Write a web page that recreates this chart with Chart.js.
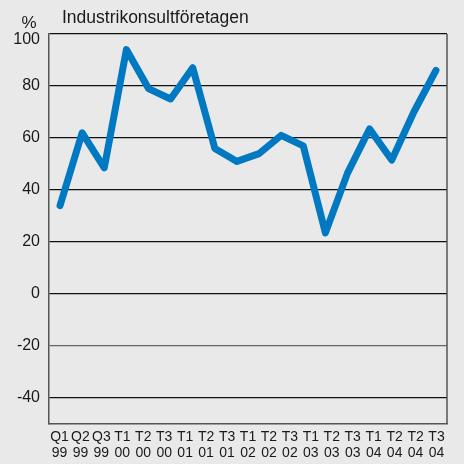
<!DOCTYPE html>
<html>
<head>
<meta charset="utf-8">
<script src="https://cdn.jsdelivr.net/npm/chart.js@4/dist/chart.umd.min.js"></script>
<style>
  html, body { margin: 0; padding: 0; background: #e9e9e9; }
  #wrap { width: 464px; height: 464px; position: relative; }
</style>
</head>
<body>
<div id="wrap"><canvas id="myChart" width="464" height="464"></canvas></div>
<script>
// tick labels as printed under the axis (19 of them, "T2 04" appears twice)
var tickLabels = [
  ["Q1","99"],["Q2","99"],["Q3","99"],
  ["T1","00"],["T2","00"],["T3","00"],
  ["T1","01"],["T2","01"],["T3","01"],
  ["T1","02"],["T2","02"],["T3","02"],
  ["T1","03"],["T2","03"],["T3","03"],
  ["T1","04"],["T2","04"],["T2","04"],["T3","04"]
];
// periods that carry a value (18 points on the line)
var periods = ["Q1 99","Q2 99","Q3 99","T1 00","T2 00","T3 00","T1 01","T2 01","T3 01",
               "T1 02","T2 02","T3 02","T1 03","T2 03","T3 03","T1 04","T2 04","T3 04"];
var values = [34, 62, 48.5, 94, 79, 75, 87, 56, 51, 54, 61, 57, 23.5, 46.5, 63.5, 51.5, 70, 86];
var yTicks = [-40, -20, 0, 20, 40, 60, 80, 100];
var title = "Industrikonsultföretagen";
var unit = "%";

var frame = {
  id: "frame",
  afterDatasetsDraw: function(chart) {
    var a = chart.chartArea, ctx = chart.ctx;
    ctx.save();
    ctx.strokeStyle = "#555";
    ctx.lineWidth = 1.5;
    ctx.beginPath();
    ctx.moveTo(a.right, a.top); ctx.lineTo(a.right, a.bottom);
    ctx.stroke();
    ctx.fillStyle = "#1a1a1a";
    ctx.font = "17.5px 'Liberation Sans', Arial, sans-serif";
    ctx.textBaseline = "alphabetic";
    ctx.textAlign = "left";
    ctx.fillText(title, 62, 23);
    ctx.textAlign = "center";
    ctx.font = "17px 'Liberation Sans', Arial, sans-serif";
    ctx.fillText(unit, 29, 28);
    ctx.restore();
  }
};

var chart = new Chart("myChart", {
  type: "line",
  data: {
    datasets: [{
      data: values,
      xAxisID: "xd",
      borderColor: "#0079c2",
      borderWidth: 7,
      borderCapStyle: "round",
      borderJoinStyle: "round",
      pointRadius: 0,
      tension: 0,
      fill: false
    }]
  },
  options: {
    responsive: false,
    animation: false,
    layout: { padding: { top: 34, right: 17, bottom: 0, left: 0 } },
    plugins: { legend: { display: false }, tooltip: { enabled: false } },
    scales: {
      x: {
        type: "category",
        labels: tickLabels,
        offset: true,
        grid: { display: false, drawTicks: false },
        border: { color: "#555", width: 1.5 },
        ticks: {
          autoSkip: false, maxRotation: 0, minRotation: 0,
          color: "#1a1a1a", padding: 5,
          font: { family: "'Liberation Sans', Arial, sans-serif", size: 14, lineHeight: 1.15 }
        },
        afterFit: function(s) { s.height = 40; }
      },
      xd: {
        type: "category",
        labels: periods,
        offset: true,
        display: false
      },
      y: {
        min: -50, max: 100,
        afterBuildTicks: function(s) { s.ticks = yTicks.map(function(v) { return { value: v }; }); },
        grid: {
          color: function(c) { return c.tick && c.tick.value === -20 ? "#666" : "#111"; },
          lineWidth: 1.2,
          drawTicks: false
        },
        border: { color: "#555", width: 1.5 },
        ticks: {
          color: "#1a1a1a", padding: 9,
          // top label sits a little below its gridline in the original
          callback: function(v) { return v === 100 ? ["", "100"] : String(v); },
          font: { family: "'Liberation Sans', Arial, sans-serif", size: 16, lineHeight: "12px" }
        },
        afterFit: function(s) { s.width = 49; }
      }
    }
  },
  plugins: [frame]
});
</script>
</body>
</html>
